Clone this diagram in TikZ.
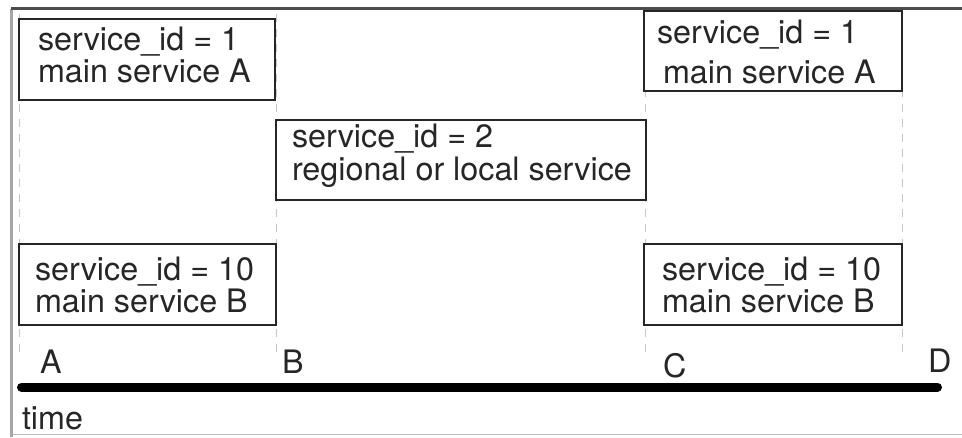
\documentclass[tikz,border=0pt]{standalone}
\usepackage{fontspec}
\setmainfont{TeX Gyre Heros}
\begin{document}
\begin{tikzpicture}[x=1pt,y=-1pt,
  svcbox/.style={draw=black!85, line width=1.8pt, fill=white, anchor=north west, inner sep=0pt, outer sep=0pt},
  txt/.style={anchor=base west, inner sep=0pt, outer sep=0pt, font=\fontsize{32.3}{38}\selectfont, text=black!85},
  guide/.style={draw=black!22, line width=1pt, dash pattern=on 8pt off 7pt},
  framedark/.style={draw=black!70, line width=2.5pt},
  framelight/.style={draw=black!25, line width=1.5pt}]
\useasboundingbox (0,0) rectangle (962,437);
% frame
\coordinate (fTL) at (11,8.5);
\coordinate (fTR) at (962,8.5);
\coordinate (fBL) at (11,437);
\coordinate (bL) at (11,434.5);
\coordinate (bR) at (962,434.5);
\draw[framelight] (bL) -- (bR);
\draw[draw=black!35, line width=3pt] (fBL) -- (fTL);
\draw[framedark] (fTL) -- (fTR);
% guides
\foreach \n/\x in {A/19,B/276,C/645,D/902}{
  \coordinate (g\n1) at (\x,14);
  \coordinate (g\n2) at (\x,358);
  \draw[guide] (g\n1) -- (g\n2);
}
% boxes
\node[svcbox, minimum width=256pt, minimum height=81pt] (b1) at (19,19) {};
\node[svcbox, minimum width=370pt, minimum height=80pt] (b2) at (276,120) {};
\node[svcbox, minimum width=257pt, minimum height=81pt] (b3) at (19,244) {};
\node[svcbox, minimum width=258pt, minimum height=80pt] (b4) at (644,11) {};
\node[svcbox, minimum width=258pt, minimum height=81pt] (b5) at (644,244) {};
% texts
\node[txt] (t1a) at (38,50) {service\_id = 1};
\node[txt] (t1b) at (38,82) {main service A};
\node[txt] (t2a) at (292,147) {service\_id = 2};
\node[txt] (t2b) at (292,180) {regional or local service};
\node[txt] (t3a) at (35,280) {service\_id = 10};
\node[txt] (t3b) at (35,312) {main service B};
\node[txt] (t4a) at (657,43) {service\_id = 1};
\node[txt] (t4b) at (663,83) {main service A};
\node[txt] (t5a) at (662,280) {service\_id = 10};
\node[txt] (t5b) at (662,312) {main service B};
% axis
\node[txt] (lA) at (40,373) {A};
\node[txt] (lB) at (282,373) {B};
\node[txt] (lC) at (663,377) {C};
\node[txt] (lD) at (928,372) {D};
\coordinate (ax0) at (21.5,387);
\coordinate (ax1) at (937.5,387);
\draw[black, line width=9pt, line cap=round] (ax0) -- (ax1);
\node[txt] (ltime) at (22,429) {time};
\end{tikzpicture}
\end{document}
